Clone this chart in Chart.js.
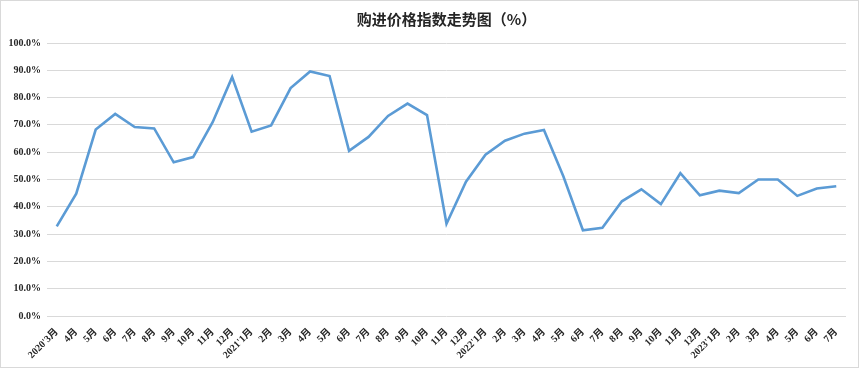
<!DOCTYPE html>
<html>
<head>
<meta charset="utf-8">
<script src="https://cdn.jsdelivr.net/npm/chart.js@4/dist/chart.umd.min.js"></script>
<style>
html,body{margin:0;padding:0;background:#fff;}
#wrap{width:859px;height:368px;box-sizing:border-box;border:1px solid #d9d9d9;background:#fff;}
canvas{display:block;}
</style>
</head>
<body>
<div id="wrap"><canvas id="c" width="857" height="366"></canvas></div>
<script>
const categories = [
  "2020'3月","4月","5月","6月","7月","8月","9月","10月","11月","12月",
  "2021'1月","2月","3月","4月","5月","6月","7月","8月","9月","10月","11月","12月",
  "2022'1月","2月","3月","4月","5月","6月","7月","8月","9月","10月","11月","12月",
  "2023'1月","2月","3月","4月","5月","6月","7月"
];
const purchaseIndex = [
  32.8, 44.8, 68.3, 74.0, 69.2, 68.7, 56.3, 58.2, 71.0, 87.5,
  67.5, 69.8, 83.5, 89.6, 87.9, 60.5, 65.6, 73.3, 77.8, 73.6, 33.8, 49.2,
  59.1, 64.2, 66.8, 68.1, 51.1, 31.4, 32.3, 42.0, 46.4, 41.0, 52.3, 44.2,
  45.9, 45.0, 50.0, 50.0, 44.0, 46.7, 47.5
];
const yTicks = [0,10,20,30,40,50,60,70,80,90,100];
const titleText = '购进价格指数走势图（%）';

const serif = "'Liberation Serif','Times New Roman','Noto Sans CJK SC',serif";

new Chart(document.getElementById('c'), {
  type: 'line',
  data: {
    labels: categories,
    datasets: [{
      data: purchaseIndex,
      borderColor: '#5b9bd5',
      borderWidth: 2.6,
      pointRadius: 0,
      tension: 0,
      fill: false
    }]
  },
  options: {
    responsive: false,
    animation: false,
    layout: { padding: { left: 0, right: 12, top: 0, bottom: 0 } },
    plugins: {
      legend: { display: false },
      tooltip: { enabled: false },
      title: {
        display: true,
        text: titleText,
        fullSize: false,
        color: '#262626',
        font: { family: "'Noto Sans CJK SC', serif", size: 15, weight: 'bold' },
        padding: { top: 9, bottom: 15 }
      }
    },
    scales: {
      x: {
        offset: true,
        grid: { display: false },
        border: { display: false },
        ticks: {
          autoSkip: false,
          maxRotation: 45,
          minRotation: 45,
          padding: 2,
          color: '#262626',
          font: { family: serif, size: 10, weight: 'bold' }
        },
        afterFit: s => { s.height = 51; }
      },
      y: {
        min: 0,
        max: 100,
        afterBuildTicks: s => { s.ticks = yTicks.map(v => ({ value: v })); },
        grid: { color: '#d9d9d9', lineWidth: 1, drawTicks: false },
        border: { display: false },
        ticks: {
          padding: 6,
          color: '#262626',
          font: { family: serif, size: 10, weight: 'bold' },
          callback: v => v.toFixed(1) + '%'
        },
        afterFit: s => { s.width = 46; }
      }
    }
  }
});
</script>
</body>
</html>
